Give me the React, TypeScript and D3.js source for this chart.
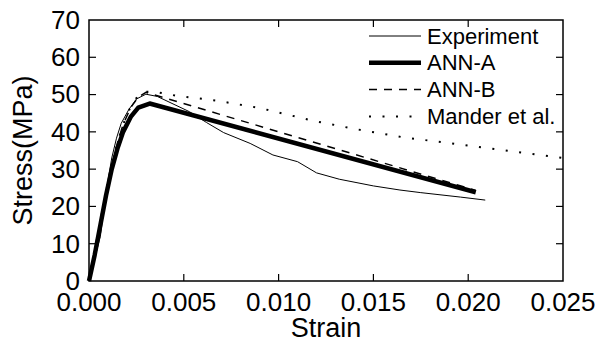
import { useRef, useEffect } from "react"
import * as d3 from "d3"

// Strain / stress pairs
const experimentStrain = [0, 0.0002, 0.0004, 0.0006, 0.0008, 0.001, 0.0012, 0.00145, 0.0017, 0.0021, 0.0025, 0.003, 0.0036, 0.0053, 0.0062, 0.0071, 0.0085, 0.0097, 0.011, 0.012, 0.0132, 0.015, 0.0164, 0.0175, 0.0196, 0.0209]
const experimentStress = [0, 4, 8, 12, 20, 27, 33, 38.3, 42.3, 46, 48.8, 50.1, 49.5, 45.4, 42.5, 39.8, 36.9, 33.8, 32, 29, 27.3, 25.5, 24.4, 23.7, 22.5, 21.7]

const annAStrain = [0, 0.0003, 0.0006, 0.0009, 0.0012, 0.0015, 0.0018, 0.0022, 0.0026, 0.0032, 0.0204]
const annAStress = [0, 7, 15, 23, 30, 35.5, 40, 44, 46.5, 47.6, 23.8]

const annBStrain = [0, 0.0003, 0.0006, 0.0009, 0.0012, 0.0015, 0.0018, 0.0022, 0.0026, 0.003, 0.0204]
const annBStress = [0, 7.5, 16, 24, 31, 37, 42, 46.5, 49.3, 50.6, 24.3]

const manderStrain = [0, 0.0003, 0.0006, 0.0009, 0.0012, 0.0015, 0.0018, 0.0022, 0.0026, 0.0029, 0.0035, 0.0046, 0.0067, 0.009, 0.0118, 0.014, 0.0165, 0.02, 0.025]
const manderStress = [0, 8, 16, 24, 31, 37, 42, 46.8, 49.8, 50.8, 50.7, 49.7, 48.4, 46.4, 43, 40.8, 38.6, 36.3, 33]

const xTicks = [0, 0.005, 0.01, 0.015, 0.02, 0.025]
const yTicks = [0, 10, 20, 30, 40, 50, 60, 70]

const seriesNames = ["Experiment", "ANN-A", "ANN-B", "Mander et al."]

const FONT = "'Liberation Sans', Arial, sans-serif"

export default function App() {
  const svgRef = useRef<SVGSVGElement | null>(null)

  useEffect(() => {
    if (!svgRef.current) return
    const svg = d3.select(svgRef.current)
    svg.selectAll("*").remove()

    const left = 89
    const right = 563
    const top = 20
    const bottom = 281

    const x = d3.scaleLinear().domain([0, 0.025]).range([left, right])
    const y = d3.scaleLinear().domain([0, 70]).range([bottom, top])

    const styles = [
      { width: 1, dash: null as string | null },
      { width: 4.5, dash: null },
      { width: 1.5, dash: "8,7" },
      { width: 2, dash: "2,11.5" },
    ]

    const series = [
      d3.zip(experimentStrain, experimentStress),
      d3.zip(annAStrain, annAStress),
      d3.zip(annBStrain, annBStress),
      d3.zip(manderStrain, manderStress),
    ]

    // curves
    const line = d3
      .line<number[]>()
      .x((d) => x(d[0]))
      .y((d) => y(d[1]))

    series.forEach((s, i) => {
      svg
        .append("path")
        .datum(s)
        .attr("d", line)
        .attr("fill", "none")
        .attr("stroke", "#000")
        .attr("stroke-width", styles[i].width)
        .attr("stroke-linejoin", "round")
        .attr("stroke-dasharray", styles[i].dash)
    })

    // frame
    svg
      .append("rect")
      .attr("x", left)
      .attr("y", top)
      .attr("width", right - left)
      .attr("height", bottom - top)
      .attr("fill", "none")
      .attr("stroke", "#000")
      .attr("stroke-width", 1.5)

    // ticks, all pointing inward
    const tickLen = 7
    const axes = svg.append("g").attr("stroke", "#000").attr("stroke-width", 1.2)
    xTicks.slice(1, -1).forEach((t) => {
      axes.append("line").attr("x1", x(t)).attr("x2", x(t)).attr("y1", bottom).attr("y2", bottom - tickLen)
      axes.append("line").attr("x1", x(t)).attr("x2", x(t)).attr("y1", top).attr("y2", top + tickLen)
    })
    yTicks.slice(1, -1).forEach((t) => {
      axes.append("line").attr("x1", left).attr("x2", left + tickLen).attr("y1", y(t)).attr("y2", y(t))
      axes.append("line").attr("x1", right).attr("x2", right - tickLen).attr("y1", y(t)).attr("y2", y(t))
    })

    // tick labels
    svg
      .append("g")
      .selectAll("text")
      .data(xTicks)
      .enter()
      .append("text")
      .attr("x", (d) => x(d))
      .attr("y", 311)
      .attr("text-anchor", "middle")
      .style("font-family", FONT)
      .style("font-size", "26px")
      .text((d) => d3.format(".3f")(d))

    svg
      .append("g")
      .selectAll("text")
      .data(yTicks)
      .enter()
      .append("text")
      .attr("x", left - 9)
      .attr("y", (d) => y(d))
      .attr("dy", "0.34em")
      .attr("text-anchor", "end")
      .style("font-family", FONT)
      .style("font-size", "26px")
      .text((d) => d)

    // axis titles
    svg
      .append("text")
      .attr("x", (left + right) / 2)
      .attr("y", 337)
      .attr("text-anchor", "middle")
      .style("font-family", FONT)
      .style("font-size", "27px")
      .text("Strain")

    svg
      .append("text")
      .attr("transform", `translate(31.5,${(top + bottom) / 2}) rotate(-90)`)
      .attr("text-anchor", "middle")
      .style("font-family", FONT)
      .style("font-size", "27px")
      .text("Stress(MPa)")

    // legend
    const legend = svg.append("g")
    seriesNames.forEach((name, i) => {
      const ly = 36 + i * 26.8
      legend
        .append("line")
        .attr("x1", 369)
        .attr("x2", 421)
        .attr("y1", ly)
        .attr("y2", ly)
        .attr("stroke", "#000")
        .attr("stroke-width", styles[i].width)
        .attr("stroke-dasharray", styles[i].dash)
      legend
        .append("text")
        .attr("x", 427)
        .attr("y", ly + 7.5)
        .style("font-family", FONT)
        .style("font-size", "22px")
        .text(name)
    })
  }, [])

  return (
    <svg
      ref={svgRef}
      width={601}
      height={345}
      style={{ position: "absolute", left: 0, top: 0, background: "#fff" }}
    ></svg>
  )
}
